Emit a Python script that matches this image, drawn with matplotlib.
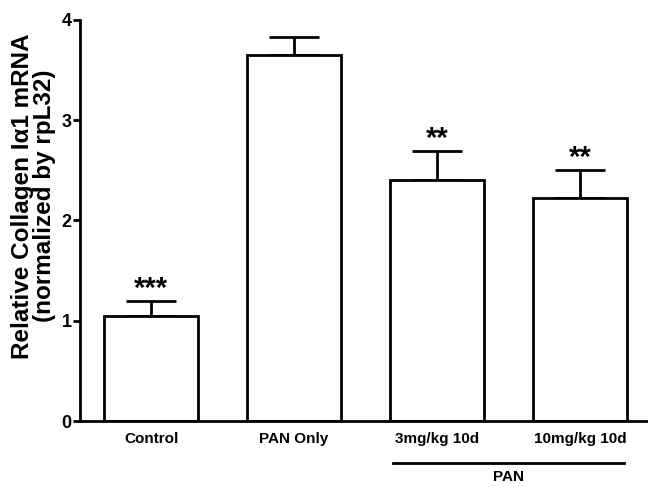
import matplotlib
matplotlib.use("Agg")
import matplotlib.pyplot as plt
import numpy as np

plt.rcParams['font.family'] = ['Liberation Sans', 'DejaVu Sans']
plt.rcParams['font.weight'] = 'bold'

groups = ['Control', 'PAN Only', '3mg/kg 10d', '10mg/kg 10d']
means = [1.05, 3.65, 2.40, 2.22]
sems = [0.15, 0.18, 0.29, 0.28]
stars = ['***', '', '**', '**']

fig = plt.figure(figsize=(6.48, 4.87), dpi=100)
ax = fig.add_axes([0.1235, 0.1355, 0.8765, 0.8235])

x = np.arange(len(groups))
ax.bar(x, means, width=0.66, color='white', edgecolor='black', linewidth=2, zorder=2)
ax.errorbar(x, means, yerr=[np.zeros(len(sems)), sems], fmt='none', ecolor='black',
            elinewidth=2, capsize=18, capthick=2, zorder=1)

for xi, m, s, st in zip(x, means, sems, stars):
    if st:
        ax.text(xi, m + s - 0.02, st, ha='center', va='bottom', fontsize=21, fontweight='bold')

ax.set_xlim(-0.497, 3.476)
ax.set_ylim(0, 4)
ax.set_yticks([0, 1, 2, 3, 4])
ax.set_xticks(x)
ax.set_xticklabels(groups, fontsize=11, fontweight='bold')
ax.tick_params(axis='x', length=0, pad=8)
ax.tick_params(axis='y', length=5, width=2, labelsize=13, pad=1)
for lbl in ax.get_yticklabels():
    lbl.set_fontweight('bold')
for side in ['top', 'right']:
    ax.spines[side].set_visible(False)
for side in ['left', 'bottom']:
    ax.spines[side].set_linewidth(2)

ax.set_ylabel('Relative Collagen I\u03b11 mRNA\n(normalized by rpL32)', fontsize=17.5,
              fontweight='bold', labelpad=4, linespacing=0.95, y=0.561)

# PAN group bracket below x labels
ax.plot([1.69, 3.31], [-0.42, -0.42], color='black', linewidth=2, clip_on=False)
ax.text(2.5, -0.56, 'PAN', ha='center', va='center', fontsize=11, fontweight='bold')

fig.savefig('out.png', dpi=100)
